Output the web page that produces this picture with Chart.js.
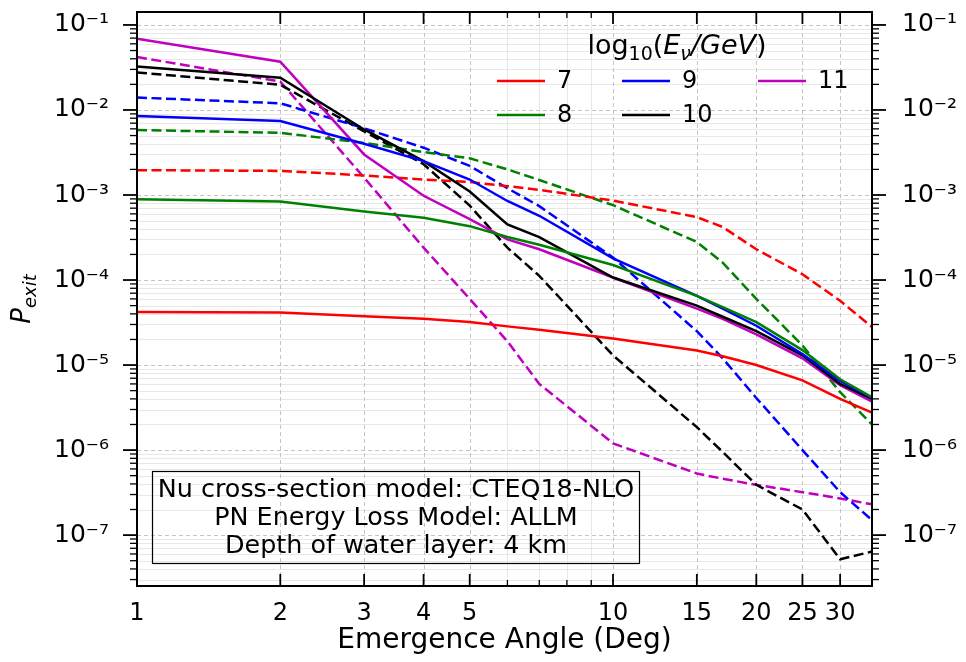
<!DOCTYPE html>
<html>
<head>
<meta charset="utf-8">
<script src="https://cdn.jsdelivr.net/npm/chart.js@4.4.0/dist/chart.umd.min.js"></script>
<style>
  html, body { margin: 0; padding: 0; background: #fff; }
</style>
</head>
<body>
<canvas id="chart" width="966" height="662"></canvas>
<script>
// --- data ---
const angles = [1, 2, 3, 4, 5, 6, 7, 10, 15, 17, 20, 25, 30, 35];

// P_exit per log10(E/GeV); solid and dashed curves
const solid7   = [4.2e-5, 4.15e-5, 3.75e-5, 3.5e-5, 3.2e-5, 2.85e-5, 2.6e-5, 2.05e-5, 1.48e-5, 1.27e-5, 1.0e-5, 6.6e-6, 4.0e-6, 2.75e-6];
const dashed7  = [1.96e-3, 1.92e-3, 1.7e-3, 1.52e-3, 1.42e-3, 1.27e-3, 1.15e-3, 8.6e-4, 5.5e-4, 4.2e-4, 2.3e-4, 1.17e-4, 5.7e-5, 2.8e-5];
const solid8   = [8.9e-4, 8.4e-4, 6.4e-4, 5.4e-4, 4.3e-4, 3.2e-4, 2.6e-4, 1.5e-4, 6.5e-5, 4.8e-5, 3.2e-5, 1.5e-5, 6.8e-6, 4.2e-6];
const dashed8  = [5.8e-3, 5.4e-3, 4.1e-3, 3.2e-3, 2.7e-3, 2.0e-3, 1.5e-3, 7.6e-4, 2.8e-4, 1.6e-4, 6.0e-5, 1.7e-5, 4.8e-6, 2.0e-6];
const solid9   = [8.5e-3, 7.4e-3, 4.0e-3, 2.5e-3, 1.52e-3, 8.5e-4, 5.7e-4, 1.8e-4, 6.5e-5, 4.6e-5, 2.9e-5, 1.35e-5, 6.5e-6, 4.1e-6];
const dashed9  = [1.4e-2, 1.2e-2, 6.1e-3, 3.6e-3, 2.2e-3, 1.2e-3, 7.4e-4, 1.84e-4, 2.5e-5, 1.2e-5, 4.1e-6, 1.0e-6, 3.2e-7, 1.5e-7];
const solid10  = [3.25e-2, 2.4e-2, 5.9e-3, 2.5e-3, 1.1e-3, 4.5e-4, 3.2e-4, 1.07e-4, 5.0e-5, 3.7e-5, 2.5e-5, 1.3e-5, 6.0e-6, 4.0e-6];
const dashed10 = [2.76e-2, 1.98e-2, 5.6e-3, 2.3e-3, 7.5e-4, 2.4e-4, 1.12e-4, 1.3e-5, 1.86e-6, 9.5e-7, 3.9e-7, 2.0e-7, 5.2e-8, 6.4e-8];
const solid11  = [6.9e-2, 3.7e-2, 3.0e-3, 9.8e-4, 5.2e-4, 3.0e-4, 2.3e-4, 1.07e-4, 4.6e-5, 3.5e-5, 2.3e-5, 1.2e-5, 5.8e-6, 3.7e-6];
const dashed11 = [4.2e-2, 2.16e-2, 1.6e-3, 2.4e-4, 6.0e-5, 1.9e-5, 6.0e-6, 1.2e-6, 5.3e-7, 4.6e-7, 3.9e-7, 3.2e-7, 2.7e-7, 2.3e-7];

const energyLabels = ['7', '8', '9', '10', '11'];
const energyColors = ['#ff0000', '#008000', '#0000ff', '#000000', '#bf00bf'];

const xTicks = [1, 2, 3, 4, 5, 10, 15, 20, 25, 30];
const xMinorTicks = [6, 7, 8, 9];
const yTicks = [1e-7, 1e-6, 1e-5, 1e-4, 1e-3, 1e-2, 1e-1];

const boxLines = [
    'Nu cross-section model: CTEQ18-NLO',
    'PN Energy Loss Model: ALLM',
    'Depth of water layer: 4 km'
];

const X_MIN = 1, X_MAX = 35;
const Y_MIN = 2.52e-8, Y_MAX = 0.142;
const FONT = '"DejaVu Sans", sans-serif';

// minor positions on the log y axis (2..9 x 10^n)
const yMinorTicks = [];
for (let e = -8; e <= -1; e++) {
    for (let m = 2; m <= 9; m++) {
        const v = m * Math.pow(10, e);
        if (v > Y_MIN && v < Y_MAX) yMinorTicks.push(v);
    }
}

const SUP = { '-': '\u207B', '0': '\u2070', '1': '\u00B9', '2': '\u00B2', '3': '\u00B3', '4': '\u2074', '5': '\u2075', '6': '\u2076', '7': '\u2077', '8': '\u2078', '9': '\u2079' };
function powLabel(v) {
    const e = Math.round(Math.log10(v));
    return '10' + String(e).split('').map(c => SUP[c]).join('');
}

function makeSet(label, vals, color, dashed) {
    return {
        label: label,
        data: angles.map((a, i) => ({ x: a, y: vals[i] })),
        borderColor: color,
        borderWidth: 2.5,
        borderDash: dashed ? [10, 4.5] : [],
        pointRadius: 0,
        tension: 0,
        fill: false
    };
}

const solids = [solid7, solid8, solid9, solid10, solid11];
const dashes = [dashed7, dashed8, dashed9, dashed10, dashed11];
const datasets = [];
solids.forEach((s, i) => datasets.push(makeSet(energyLabels[i], s, energyColors[i], false)));
dashes.forEach((s, i) => datasets.push(makeSet(energyLabels[i] + ' dashed', s, energyColors[i], true)));

function hLine(ctx, x1, x2, y) { ctx.beginPath(); ctx.moveTo(x1, y); ctx.lineTo(x2, y); ctx.stroke(); }
function vLine(ctx, x, y1, y2) { ctx.beginPath(); ctx.moveTo(x, y1); ctx.lineTo(x, y2); ctx.stroke(); }

// grid lines under the curves
const gridPlugin = {
    id: 'mplGrid',
    beforeDatasetsDraw(chart) {
        const { ctx, chartArea: a, scales } = chart;
        const x = scales.x, y = scales.y;
        ctx.save();
        ctx.lineWidth = 0.8;
        ctx.strokeStyle = '#e2e2e2';
        ctx.setLineDash([]);
        yMinorTicks.forEach(v => hLine(ctx, a.left, a.right, Math.round(y.getPixelForValue(v)) + 0.5));
        xMinorTicks.forEach(v => vLine(ctx, Math.round(x.getPixelForValue(v)) + 0.5, a.top, a.bottom));
        ctx.strokeStyle = '#b5b5b5';
        ctx.setLineDash([4, 3]);
        yTicks.forEach(v => hLine(ctx, a.left, a.right, Math.round(y.getPixelForValue(v)) + 0.5));
        xTicks.forEach(v => vLine(ctx, Math.round(x.getPixelForValue(v)) + 0.5, a.top, a.bottom));
        ctx.restore();
    }
};

// frame, tick marks, legend, annotation box and y title
const decorPlugin = {
    id: 'mplDecor',
    afterDatasetsDraw(chart) {
        const { ctx, chartArea: a, scales } = chart;
        const x = scales.x, y = scales.y;
        ctx.save();
        ctx.strokeStyle = '#000';
        ctx.setLineDash([]);
        // x ticks, inward, bottom and top
        ctx.lineWidth = 1.8;
        xTicks.forEach(v => {
            const px = x.getPixelForValue(v);
            vLine(ctx, px, a.bottom, a.bottom - 12);
            vLine(ctx, px, a.top, a.top + 12);
        });
        ctx.lineWidth = 1.3;
        xMinorTicks.forEach(v => {
            const px = x.getPixelForValue(v);
            vLine(ctx, px, a.bottom, a.bottom - 6);
            vLine(ctx, px, a.top, a.top + 6);
        });
        // y ticks, outward, left and right
        ctx.lineWidth = 1.8;
        yTicks.forEach(v => {
            const py = y.getPixelForValue(v);
            hLine(ctx, a.left - 14, a.left, py);
            hLine(ctx, a.right, a.right + 14, py);
        });
        ctx.lineWidth = 1.3;
        yMinorTicks.forEach(v => {
            const py = y.getPixelForValue(v);
            hLine(ctx, a.left - 7, a.left, py);
            hLine(ctx, a.right, a.right + 7, py);
        });
        // frame
        ctx.lineWidth = 2;
        ctx.strokeRect(a.left, a.top, a.right - a.left, a.bottom - a.top);
        ctx.restore();
    },
    afterDraw(chart) {
        const ctx = chart.ctx;
        ctx.save();
        ctx.fillStyle = '#000';
        ctx.textBaseline = 'alphabetic';

        // legend title: log10(E_nu/GeV)
        const parts = [
            { t: 'log', f: '27px', dy: 0 },
            { t: '10', f: '19px', dy: 6 },
            { t: '(', f: '27px', dy: 0 },
            { t: 'E', f: 'italic 27px', dy: 0 },
            { t: '\u03BD', f: 'italic 19px', dy: 6 },
            { t: '/GeV', f: 'italic 27px', dy: 0 },
            { t: ')', f: '27px', dy: 0 }
        ];
        let total = 0;
        parts.forEach(p => { ctx.font = p.f + ' ' + FONT; p.w = ctx.measureText(p.t).width; total += p.w; });
        let tx = 677 - total / 2;
        parts.forEach(p => { ctx.font = p.f + ' ' + FONT; ctx.fillText(p.t, tx, 54 + p.dy); tx += p.w; });

        // legend entries, filled column by column
        const colX = [497, 622, 758];
        const rowY = [81, 115];
        ctx.font = '24px ' + FONT;
        ctx.textBaseline = 'middle';
        energyLabels.forEach((lab, i) => {
            const cx = colX[Math.floor(i / 2)];
            const cy = rowY[i % 2];
            ctx.strokeStyle = energyColors[i];
            ctx.lineWidth = 2.5;
            hLine(ctx, cx, cx + 48, cy);
            ctx.fillText(lab, cx + 60, cy + 1);
        });

        // annotation box
        ctx.strokeStyle = '#000';
        ctx.lineWidth = 1.2;
        ctx.strokeRect(152.5, 471.5, 487, 92);
        ctx.font = '25.4px ' + FONT;
        ctx.textAlign = 'center';
        ctx.textBaseline = 'alphabetic';
        boxLines.forEach((t, i) => ctx.fillText(t, 396, 497 + i * 28));

        // y axis title P_exit
        ctx.translate(21, 299);
        ctx.rotate(-Math.PI / 2);
        ctx.textAlign = 'left';
        ctx.font = 'italic 26px ' + FONT;
        const wP = ctx.measureText('P').width;
        ctx.font = 'italic 18px ' + FONT;
        const wS = ctx.measureText('exit').width;
        const start = -(wP + wS) / 2;
        ctx.font = 'italic 26px ' + FONT;
        ctx.fillText('P', start, 9);
        ctx.font = 'italic 18px ' + FONT;
        ctx.fillText('exit', start + wP, 15);
        ctx.restore();
    }
};

function noPad(s) { s.paddingLeft = 0; s.paddingRight = 0; s.paddingTop = 0; s.paddingBottom = 0; }

Chart.defaults.font.family = FONT;
Chart.defaults.color = '#000';

new Chart(document.getElementById('chart'), {
    type: 'line',
    data: { datasets: datasets },
    options: {
        responsive: false,
        animation: false,
        layout: { padding: { top: 12, left: 0, right: 0, bottom: 0 } },
        plugins: { legend: { display: false }, tooltip: { enabled: false } },
        scales: {
            x: {
                type: 'logarithmic',
                position: 'bottom',
                min: X_MIN,
                max: X_MAX,
                grid: { display: false, drawTicks: false },
                border: { display: false },
                ticks: {
                    autoSkip: false, maxRotation: 0, minRotation: 0, padding: 13,
                    font: { size: 24 }, color: '#000',
                    callback: v => String(v)
                },
                afterBuildTicks: s => { s.ticks = xTicks.map(v => ({ value: v })); },
                afterFit: s => { s.height = 76; noPad(s); },
                title: { display: true, text: 'Emergence Angle (Deg)', font: { size: 28 }, color: '#000', padding: { top: 0, bottom: 4 } }
            },
            y: {
                type: 'logarithmic',
                position: 'left',
                min: Y_MIN,
                max: Y_MAX,
                grid: { display: false, drawTicks: false },
                border: { display: false },
                ticks: { autoSkip: false, padding: 28, font: { size: 25 }, color: '#000', callback: v => powLabel(v) },
                afterBuildTicks: s => { s.ticks = yTicks.map(v => ({ value: v })); },
                afterFit: s => { s.width = 137; noPad(s); }
            },
            y2: {
                type: 'logarithmic',
                position: 'right',
                min: Y_MIN,
                max: Y_MAX,
                grid: { display: false, drawTicks: false },
                border: { display: false },
                ticks: { autoSkip: false, padding: 30, font: { size: 25 }, color: '#000', callback: v => powLabel(v) },
                afterBuildTicks: s => { s.ticks = yTicks.map(v => ({ value: v })); },
                afterFit: s => { s.width = 94; noPad(s); }
            }
        }
    },
    plugins: [gridPlugin, decorPlugin]
});
</script>
</body>
</html>
